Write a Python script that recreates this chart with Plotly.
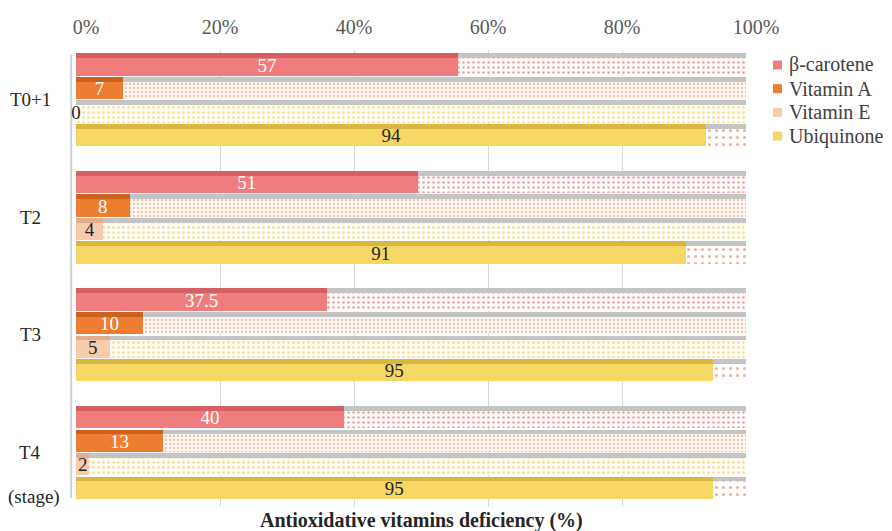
import plotly.graph_objects as go

stages = ["T0+1", "T2", "T3", "T4"]
series = ["β-carotene", "Vitamin A", "Vitamin E", "Ubiquinone"]
beta_carotene = [57, 51, 37.5, 40]
vitamin_a = [7, 8, 10, 13]
vitamin_e = [0, 4, 5, 2]
ubiquinone = [94, 91, 95, 95]
tick_vals = [0, 20, 40, 60, 80, 100]

values = [beta_carotene, vitamin_a, vitamin_e, ubiquinone]
colors = ["#F07C7E", "#ED7D31", "#F8CBAD", "#F6D665"]
top_colors = ["#D65F62", "#C9621E", "#E2AD8B", "#D9B640"]
text_colors = ["white", "white", "#262626", "#262626"]
pat_fg = ["#F0A0A0", "#F5BFA5", "#F5DC8A", "#F4AE9C"]
pat_bg = ["#FFFBFB", "#FEF8F4", "#FFFDF5", "#FFFFFF"]
pat_size = [5, 4, 5, 7]
pat_sol = [0.2, 0.25, 0.2, 0.15]

FONT = "Liberation Serif, Times New Roman, DejaVu Serif, serif"
W, H = 892, 531
ML, MR, MT, MB = 76, 136, 50, 24
PW = W - ML - MR
PH = H - MT - MB

GROUP = 5
MAIN_W = 0.75
TOP_W = 0.2


def px_x(px):
    return (px - ML) / PW


def px_y(py):
    return 1 - (py - MT) / PH


fig = go.Figure()

# invisible trace to establish grid subplot
fig.add_trace(go.Scatter(x=[0, 100], y=[0, 0], mode="markers", marker=dict(opacity=0),
                         showlegend=False, hoverinfo="skip", xaxis="x", yaxis="y"))

for si, name in enumerate(series):
    vals = values[si]
    pos = [g * GROUP + si for g in range(len(stages))]
    main_y = [p + 0.1 for p in pos]
    top_y = [p - 0.375 for p in pos]
    rem = [100 - v for v in vals]
    # remainder (patterned)
    fig.add_trace(go.Bar(
        y=main_y, x=rem, base=vals, orientation="h", width=MAIN_W,
        marker=dict(color=pat_bg[si], line=dict(width=0),
                    pattern=dict(shape=".", fgcolor=pat_fg[si], bgcolor=pat_bg[si],
                                 size=pat_size[si], solidity=pat_sol[si], fillmode="replace")),
        showlegend=False, hoverinfo="skip", xaxis="x2", yaxis="y"))
    # remainder top face
    fig.add_trace(go.Bar(
        y=top_y, x=rem, base=vals, orientation="h", width=TOP_W,
        marker=dict(color="#C4C4C4", line=dict(width=0)),
        showlegend=False, hoverinfo="skip", xaxis="x2", yaxis="y"))
    # right end cap
    fig.add_trace(go.Bar(
        y=[p for p in pos], x=[0.8] * len(pos), base=[100] * len(pos), orientation="h",
        width=MAIN_W + TOP_W,
        marker=dict(color="#A6A6A6", line=dict(width=0)),
        showlegend=False, hoverinfo="skip", xaxis="x2", yaxis="y"))
    # main value bar
    fig.add_trace(go.Bar(
        y=main_y, x=vals, orientation="h", width=MAIN_W, name=name,
        marker=dict(color=colors[si], line=dict(width=0)),
        showlegend=False, xaxis="x2", yaxis="y"))
    # value top face
    fig.add_trace(go.Bar(
        y=top_y, x=vals, orientation="h", width=TOP_W,
        marker=dict(color=top_colors[si], line=dict(width=0)),
        showlegend=False, hoverinfo="skip", xaxis="x2", yaxis="y"))
    # value labels
    fig.add_trace(go.Scatter(
        y=main_y, x=[v / 2 for v in vals], mode="text", cliponaxis=False,
        text=[f"{v:g}" for v in vals],
        textfont=dict(family=FONT, size=19, color=text_colors[si]),
        showlegend=False, hoverinfo="skip", xaxis="x2", yaxis="y"))

fig.update_layout(
    width=W, height=H,
    margin=dict(l=ML, r=MR, t=MT, b=MB, autoexpand=False),
    paper_bgcolor="white", plot_bgcolor="rgba(0,0,0,0)",
    barmode="overlay", bargap=0,
    font=dict(family=FONT, size=18, color="#404040"),
    xaxis=dict(domain=[10 / PW, 1], range=[0, 100], side="top", anchor="y",
               tickvals=tick_vals, ticktext=[f"{t}%" for t in tick_vals],
               showgrid=True, gridcolor="#D9D9D9", gridwidth=1, zeroline=False,
               ticks="outside", ticklen=7, tickcolor="rgba(0,0,0,0)", automargin=False,
               tickfont=dict(family=FONT, size=20, color="#595959"), fixedrange=True),
    xaxis2=dict(domain=[0, 1 - 10 / PW], range=[0, 100], anchor="y", visible=False,
                automargin=False, fixedrange=True),
    yaxis=dict(range=[18.82, -0.62], anchor="x2", automargin=False,
               showticklabels=False, showgrid=False, zeroline=False, fixedrange=True),
    showlegend=False,
)

# stage labels (centered, like the original category labels)
for g, st in enumerate(stages):
    fig.add_annotation(text=st, xref="paper", yref="y", x=px_x(30), y=g * GROUP + 1.5,
                       xanchor="center", yanchor="middle", showarrow=False,
                       font=dict(family=FONT, size=19, color="#262626"))

# legend (swatch + label per series)
for si, name in enumerate(series):
    cy = 65 + si * 23.7
    fig.add_shape(type="rect", xref="paper", yref="paper",
                  x0=px_x(773), x1=px_x(782), y0=px_y(cy + 4.5), y1=px_y(cy - 4.5),
                  fillcolor=colors[si], line=dict(width=0))
    fig.add_annotation(text=name, xref="paper", yref="paper", x=px_x(787), y=px_y(cy),
                       xanchor="left", yanchor="middle", showarrow=False,
                       font=dict(family=FONT, size=20, color="#404040"))

fig.add_shape(type="line", xref="paper", yref="paper", x0=-0.007, x1=-0.007, y0=0.02, y1=0.99,
              line=dict(color="#D0D0D0", width=2), layer="below")

fig.add_annotation(text="(stage)", xref="paper", yref="paper", x=-0.02, y=px_y(497),
                   xanchor="right", yanchor="middle", showarrow=False,
                   font=dict(family=FONT, size=19, color="#262626"))
fig.add_annotation(text="<b>Antioxidative vitamins deficiency (%)</b>", xref="paper", yref="paper",
                   x=px_x(421), y=px_y(520), xanchor="center", yanchor="middle", showarrow=False,
                   font=dict(family=FONT, size=20, color="#262626"))

fig.write_html("out.html", config={"displayModeBar": False},
               post_script="document.body.style.margin='0';")
